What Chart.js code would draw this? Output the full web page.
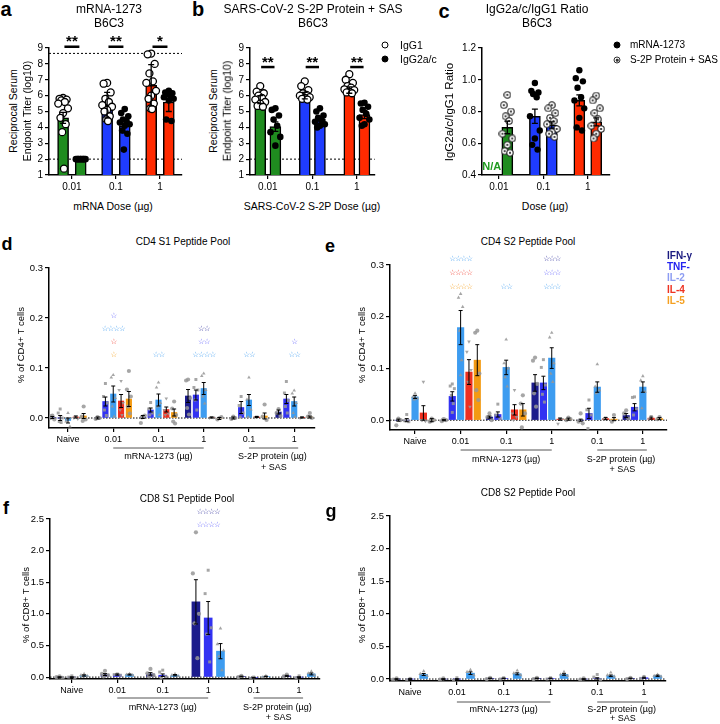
<!DOCTYPE html>
<html>
<head>
<meta charset="utf-8">
<script src="https://cdn.jsdelivr.net/npm/chart.js@4.4.1/dist/chart.umd.min.js"></script>
<style>
body { margin: 0; background: #fff; width: 720px; height: 724px; position: relative; overflow: hidden;
       font-family: 'Liberation Sans', Arial, Helvetica, sans-serif; }
canvas { position: absolute; }
.t { position: absolute; white-space: nowrap; transform: translate(-50%, -50%); color: #000; line-height: 1; }
.dot { position: absolute; width: 6px; height: 6px; border-radius: 50%; transform: translate(-50%, -50%); box-sizing: border-box; }
</style>
</head>
<body>
<script>
const FAMILY = "'Liberation Sans', Arial, Helvetica, sans-serif";
Chart.defaults.font.family = FAMILY;
Chart.defaults.color = '#000';

// ---------- antibody panels (a, b, c) ----------
const doseLabels = ['0.01', '0.1', '1'];
const doseColors = ['#1f8c1f', '#1f3cff', '#ff2a00'];

// a: mRNA-1273, log10 endpoint titers
const aIgG1Mean = [4.6, 5.4, 6.65];
const aIgG1Err = [0.35, 0.8, 1.3];
const aIgG2Mean = [2.0, 4.1, 5.6];
const aIgG2Err = [0, 0.45, 0.6];
const aIgG1Pts = [
    [5.85, 5.8, 5.75, 5.7, 5.6, 5.5, 5.2, 4.9, 4.6, 4.2, 3.7, 1.4],
    [6.8, 6.75, 6.2, 5.8, 5.6, 5.4, 5.3, 5.1, 5.0, 4.7, 4.5, 4.4],
    [8.65, 8.6, 8.0, 7.4, 6.9, 6.8, 6.3, 6.0, 5.8, 5.5, 5.2, 5.15]
];
const aIgG2Pts = [
    [2.0, 2.0, 2.0, 2.0, 2.0, 2.0, 2.0, 2.0, 2.0, 2.0],
    [5.15, 4.9, 4.7, 4.5, 4.4, 4.3, 4.2, 4.1, 3.8, 3.6, 2.6],
    [6.3, 6.2, 6.15, 6.1, 6.0, 5.9, 5.8, 5.7, 4.5, 4.4]
];
const aLimits = [2, 8.66];
const aSig = ['**', '**', '*'];

// b: S-2P protein + SAS
const bIgG1Mean = [5.75, 6.0, 6.35];
const bIgG1Err = [0.25, 0.2, 0.2];
const bIgG2Mean = [4.05, 4.5, 4.8];
const bIgG2Err = [0.3, 0.15, 0.25];
const bIgG1Pts = [
    [6.6, 6.25, 6.15, 6.0, 5.85, 5.75, 5.6, 5.5, 5.35, 5.3],
    [6.9, 6.6, 6.35, 6.15, 6.05, 6.0, 5.9, 5.85, 5.8, 5.75],
    [7.35, 7.0, 6.8, 6.6, 6.5, 6.4, 6.35, 6.25, 6.2, 6.15]
];
const bIgG2Pts = [
    [5.2, 5.1, 4.75, 4.5, 4.1, 3.7, 3.4, 2.85],
    [5.2, 5.0, 4.75, 4.6, 4.45, 4.35, 4.2, 4.1, 4.0],
    [5.55, 5.5, 5.3, 5.1, 4.85, 4.6, 4.5, 4.2, 4.1]
];
const bLimits = [2];
const bSig = ['**', '**', '**'];

// c: IgG2a/c / IgG1 ratio (no mRNA ratio at 0.01)
const cMrnaMean = [null, 0.77, 0.87];
const cMrnaErr = [0, 0.045, 0.035];
const cProtMean = [0.70, 0.715, 0.735];
const cProtErr = [0.04, 0.02, 0.025];
const cMrnaPts = [
    [],
    [0.98, 0.93, 0.92, 0.91, 0.89, 0.77, 0.68, 0.63, 0.59, 0.56],
    [1.06, 1.01, 0.99, 0.95, 0.89, 0.87, 0.82, 0.76, 0.70, 0.68]
];
const cProtPts = [
    [0.905, 0.84, 0.80, 0.77, 0.74, 0.66, 0.63, 0.59, 0.55, 0.54],
    [0.84, 0.82, 0.79, 0.76, 0.74, 0.72, 0.69, 0.67, 0.66, 0.64],
    [0.90, 0.87, 0.82, 0.79, 0.75, 0.71, 0.69, 0.66, 0.63]
];

// ---------- T cell panels (d, e, f, g) ----------
const tGroups = ['Naive', '0.01', '0.1', '1', '0.1', '1'];
const cytokines = ['IFN-γ', 'TNF-', 'IL-2', 'IL-4', 'IL-5'];
const cytoColors = ['#1c1c8c', '#3232f2', '#3d9cf0', '#ee3020', '#f39a12'];
const starColors = ['#2c2c9a', '#5a5aff', '#3d9cf0', '#f03a2a', '#f5a020'];
const legendColors = ['#1a1a80', '#2424f0', '#8c9cf2', '#ee3322', '#f5a020'];

// d: CD4 S1 — rows are groups, columns cytokines
const dMean = [
    [0.001, 0.0, -0.005, 0.002, 0.004],
    [0.0, 0.033, 0.048, 0.034, 0.038],
    [0.002, 0.016, 0.036, 0.017, 0.011],
    [0.044, 0.046, 0.059, 0.001, -0.001],
    [0.0, 0.021, 0.036, 0.002, 0.004],
    [0.012, 0.038, 0.033, 0.001, 0.002]
];
const dErr = [
    [0.002, 0.005, 0.005, 0.002, 0.005],
    [0.002, 0.009, 0.016, 0.013, 0.015],
    [0.003, 0.004, 0.012, 0.005, 0.007],
    [0.013, 0.010, 0.012, 0.001, 0.002],
    [0.002, 0.012, 0.011, 0.001, 0.006],
    [0.004, 0.009, 0.009, 0.001, 0.002]
];
const dPts = [
    [[0.005, 0.0, -0.003, 0.004], [0.018, 0.01, 0.0, -0.007, -0.009], [0.01, -0.007, -0.017, -0.002], [0.003, 0.0, -0.002], [0.023, 0.003, -0.003, -0.006]],
    [[0.002, -0.002, 0.0], [0.069, 0.043, 0.03, 0.016, 0.005], [0.086, 0.081, 0.04, 0.023, 0.003], [0.074, 0.056, 0.03, 0.016, 0.006], [0.094, 0.057, 0.043, 0.023, 0.009]],
    [[0.003, -0.01, 0.005, 0.001], [0.031, 0.018, 0.01, 0.006], [0.071, 0.061, 0.03, 0.023, 0.006], [0.039, 0.016, 0.009, 0.006], [0.033, 0.019, 0.006, -0.007, -0.011]],
    [[0.077, 0.075, 0.04, 0.02, 0.007], [0.077, 0.061, 0.056, 0.036, 0.016], [0.089, 0.084, 0.056, 0.043, 0.029], [0.002, 0.0, 0.001], [0.0, -0.003, 0.002]],
    [[0.003, -0.002, 0.0], [0.043, 0.025, 0.01, 0.002], [0.081, 0.037, 0.017, 0.002], [0.003, 0.001], [0.027, 0.003, -0.004]],
    [[0.018, 0.01, 0.004], [0.073, 0.05, 0.035, 0.023, 0.01], [0.055, 0.049, 0.03, 0.01, 0.002], [0.002, 0.0], [0.01, 0.003, 0.0]]
];
// [group, level, stars, cytokine]
const dStars = [
    [1, 3, '☆', 1], [1, 2, '☆☆☆☆', 2], [1, 1, '☆', 3], [1, 0, '☆', 4],
    [2, 0, '☆☆', 2],
    [3, 2, '☆☆', 0], [3, 1, '☆☆', 1], [3, 0, '☆☆☆☆', 2],
    [4, 0, '☆☆', 2],
    [5, 1, '☆', 1], [5, 0, '☆☆', 2]
];

// e: CD4 S2
const eMean = [
    [0.0, 0.0, 0.045, 0.014, 0.0],
    [0.0, 0.046, 0.179, 0.093, 0.116],
    [0.006, 0.011, 0.102, 0.020, 0.020],
    [0.072, 0.072, 0.120, 0.002, 0.002],
    [0.0, 0.013, 0.064, 0.003, 0.002],
    [0.009, 0.025, 0.064, 0.004, 0.003]
];
const eErr = [
    [0.002, 0.003, 0.003, 0.014, 0.003],
    [0.001, 0.009, 0.033, 0.024, 0.030],
    [0.002, 0.005, 0.014, 0.010, 0.012],
    [0.016, 0.013, 0.020, 0.002, 0.002],
    [0.002, 0.010, 0.010, 0.002, 0.003],
    [0.004, 0.007, 0.010, 0.002, 0.002]
];
const ePts = [
    [[0.003, -0.01, 0.0], [0.011, -0.001, -0.003], [0.052, 0.045, 0.042, 0.04], [0.074, 0.0, -0.002, 0.0, 0.0], [0.003, -0.003, 0.0, -0.002]],
    [[0.002, -0.002, 0.0, 0.001], [0.07, 0.066, 0.061, 0.048, 0.032, 0.015], [0.244, 0.237, 0.219, 0.173, 0.116, 0.087], [0.152, 0.132, 0.097, 0.074, 0.026], [0.173, 0.169, 0.09, 0.058, 0.039]],
    [[0.013, 0.006, 0.0], [0.031, 0.01, 0.003], [0.156, 0.11, 0.1, 0.083, 0.065], [0.058, 0.013, 0.006, 0.0], [0.048, 0.032, 0.013, -0.014]],
    [[0.121, 0.115, 0.07, 0.052, 0.026], [0.117, 0.102, 0.068, 0.05, 0.035], [0.169, 0.16, 0.11, 0.09, 0.074], [0.003, -0.007, 0.002], [0.005, 0.0, 0.002]],
    [[0.013, -0.003, -0.006], [0.039, 0.02, 0.01, -0.016], [0.108, 0.065, 0.058, 0.052], [0.005, 0.002], [0.01, -0.003]],
    [[0.019, 0.013, 0.003], [0.045, 0.044, 0.022, 0.01], [0.085, 0.077, 0.055, 0.023], [0.008, 0.002], [0.006, 0.002]]
];
const eStars = [
    [1, 2, '☆☆☆☆', 2], [1, 1, '☆☆☆☆', 3], [1, 0, '☆☆☆☆', 4],
    [2, 0, '☆☆', 2],
    [3, 2, '☆☆☆', 0], [3, 1, '☆☆☆', 1], [3, 0, '☆☆☆', 2]
];

// f: CD8 S1 (IFN-γ, TNF, IL-2 only)
const fMean = [
    [0.0, 0.0, 0.025],
    [0.04, 0.04, 0.04],
    [0.05, 0.03, 0.03],
    [1.19, 0.935, 0.41],
    [0.01, -0.01, 0.01],
    [0.02, 0.0, 0.05]
];
const fErr = [
    [0.005, 0.005, 0.01], [0.015, 0.01, 0.008], [0.02, 0.02, 0.01],
    [0.35, 0.26, 0.12], [0.005, 0.005, 0.005], [0.008, 0.005, 0.015]
];
const fPts = [
    [[0.01, 0.0, -0.01], [0.02, 0.0, -0.01], [0.05, 0.03, 0.02, 0.01]],
    [[0.1, 0.05, 0.03, 0.01], [0.05, 0.04, 0.03], [0.05, 0.04, 0.03]],
    [[0.13, 0.06, 0.03, 0.01], [0.11, 0.08, 0.01, -0.01], [0.05, 0.03, 0.02]],
    [[2.29, 1.64, 1.0, 0.85, 0.3], [1.69, 1.32, 0.78, 0.68, 0.24], [0.77, 0.52, 0.42, 0.33, 0.11]],
    [[0.02, 0.0], [0.0, -0.02], [0.02, 0.0]],
    [[0.04, 0.01], [0.02, -0.01], [0.09, 0.06, 0.03]]
];
const fStars = [[3, 1, '☆☆☆☆', 0], [3, 0, '☆☆☆☆', 1]];

// g: CD8 S2
const gMean = [
    [0.0, 0.0, 0.07], [0.0, 0.0, 0.09], [0.01, 0.01, 0.08],
    [0.01, 0.01, 0.07], [0.0, 0.01, 0.05], [0.01, 0.02, 0.05]
];
const gErr = [
    [0.005, 0.005, 0.015], [0.005, 0.005, 0.02], [0.005, 0.005, 0.015],
    [0.005, 0.005, 0.012], [0.005, 0.01, 0.012], [0.005, 0.008, 0.01]
];
const gPts = [
    [[0.01, -0.01], [0.01, -0.01], [0.12, 0.08, 0.05]],
    [[0.01, -0.01], [0.02, -0.02], [0.14, 0.11, 0.06]],
    [[0.02, 0.0], [0.02, 0.0], [0.13, 0.09, 0.06]],
    [[0.02, 0.0], [0.02, 0.0], [0.11, 0.07, 0.05]],
    [[0.01, -0.01], [0.07, 0.03, -0.01], [0.1, 0.06, 0.04]],
    [[0.02, 0.0], [0.04, 0.01], [0.07, 0.05, 0.04]]
];

// ---------- helpers ----------
const swarmWide = [0, -0.08, 0.08, -0.04, 0.04, -0.11, 0.11, 0.0, -0.06, 0.06, -0.02, 0.02];
const swarmNarrow = [0, -0.25, 0.25, -0.12, 0.12, 0];
const ptShapes = ['circle', 'rect', 'triangle', 'triangle', 'circle'];
const ptRot = [0, 0, 0, 180, 0];

function makeCanvas(box, yw, xh, padT, padR) {
    const cv = document.createElement('canvas');
    const w = yw + (box.r - box.l) + padR;
    const h = padT + (box.b - box.t) + xh;
    cv.width = w;
    cv.height = h;
    cv.style.left = (box.l - yw) + 'px';
    cv.style.top = (box.t - padT) + 'px';
    cv.style.width = w + 'px';
    cv.style.height = h + 'px';
    document.body.appendChild(cv);
    return cv;
}

function axes(o) {
    const grid = { offset: false, drawOnChartArea: false, drawTicks: true, tickLength: 4, color: '#000', lineWidth: 1.2 };
    const border = { display: true, color: '#000', width: 1.5 };
    return {
        x: {
            type: 'linear', offset: false, min: o.xr[0], max: o.xr[1],
            afterBuildTicks: s => { s.ticks = o.xLabels.map((_, i) => ({ value: i })); },
            afterFit: s => { s.height = o.xh; },
            ticks: { autoSkip: false, maxRotation: 0, padding: 2, font: { size: o.xFont }, color: '#000',
                     callback: (v, i) => o.xLabels[i] },
            grid, border
        },
        y: {
            type: 'linear', min: o.yr[0], max: o.yr[1],
            afterBuildTicks: s => { s.ticks = o.yTicks.map(v => ({ value: v })); },
            afterFit: s => { s.width = o.yw; },
            ticks: { padding: 2, font: { size: o.yFont }, color: '#000', callback: v => o.yFmt(v) },
            grid, border
        }
    };
}

function extrasPlugin(cfg) {
    return {
        id: 'extras',
        beforeDatasetsDraw(chart) {
            const { ctx, chartArea: a } = chart;
            const y = chart.scales.y;
            (cfg.refLines || []).forEach(v => {
                const py = y.getPixelForValue(v);
                ctx.save();
                ctx.setLineDash(cfg.dash || [2, 2]);
                ctx.strokeStyle = '#000';
                ctx.lineWidth = 1;
                ctx.beginPath();
                ctx.moveTo(a.left, py);
                ctx.lineTo(a.right, py);
                ctx.stroke();
                ctx.restore();
            });
        },
        afterDatasetsDraw(chart) {
            const ctx = chart.ctx;
            const x = chart.scales.x, y = chart.scales.y;
            const bottom = chart.chartArea.bottom;
            ctx.save();
            // error bars
            ctx.strokeStyle = '#000';
            ctx.lineWidth = cfg.errW || 1;
            (cfg.errBars || []).forEach(b => {
                if (!b.e) return;
                const px = x.getPixelForValue(b.x);
                const y1 = y.getPixelForValue(b.y - b.e), y2 = y.getPixelForValue(b.y + b.e);
                const cw = cfg.capW || 2;
                ctx.beginPath();
                ctx.moveTo(px, y1); ctx.lineTo(px, y2);
                ctx.moveTo(px - cw, y1); ctx.lineTo(px + cw, y1);
                ctx.moveTo(px - cw, y2); ctx.lineTo(px + cw, y2);
                ctx.stroke();
            });
            // significance brackets
            (cfg.brackets || []).forEach(b => {
                const x1 = x.getPixelForValue(b.x1), x2 = x.getPixelForValue(b.x2), py = y.getPixelForValue(b.y);
                ctx.lineWidth = 2.5;
                ctx.beginPath(); ctx.moveTo(x1, py); ctx.lineTo(x2, py); ctx.stroke();
                ctx.font = 'bold 15px ' + FAMILY;
                ctx.fillStyle = '#000';
                ctx.textAlign = 'center';
                ctx.textBaseline = 'alphabetic';
                ctx.fillText(b.text, (x1 + x2) / 2, py - 0.5);
            });
            // star annotations
            (cfg.stars || []).forEach(s => {
                ctx.font = "bold 7.5px 'DejaVu Sans'";
                ctx.letterSpacing = '-1px';
                ctx.fillStyle = s.color;
                ctx.textAlign = 'center';
                ctx.textBaseline = 'middle';
                ctx.fillText(s.text, x.getPixelForValue(s.x), y.getPixelForValue(s.y));
            });
            ctx.letterSpacing = '0px';
            // notes
            (cfg.notes || []).forEach(n => {
                ctx.font = n.font;
                ctx.fillStyle = n.color;
                ctx.textAlign = 'center';
                ctx.textBaseline = 'middle';
                ctx.fillText(n.text, x.getPixelForValue(n.x), y.getPixelForValue(n.y));
            });
            // group labels under the x axis
            if (cfg.sub) {
                const s = cfg.sub;
                ctx.strokeStyle = '#555';
                ctx.lineWidth = 1;
                ctx.beginPath();
                ctx.moveTo(x.getPixelForValue(1), bottom + s.line);
                ctx.lineTo(x.getPixelForValue(3), bottom + s.line);
                ctx.moveTo(x.getPixelForValue(4), bottom + s.line);
                ctx.lineTo(x.getPixelForValue(5) + 4, bottom + s.line);
                ctx.stroke();
                ctx.font = '9px ' + FAMILY;
                ctx.fillStyle = '#000';
                ctx.textAlign = 'center';
                ctx.textBaseline = 'middle';
                ctx.fillText('mRNA-1273 (µg)', x.getPixelForValue(2), bottom + s.t1);
                ctx.fillText('S-2P protein (µg)', x.getPixelForValue(4.52), bottom + s.t1);
                ctx.fillText('+ SAS', x.getPixelForValue(4.55), bottom + s.t2);
            }
            ctx.restore();
        }
    };
}

function baseOptions(pad, scales) {
    return {
        responsive: false, animation: false, devicePixelRatio: 1,
        layout: { padding: { top: pad.t, right: pad.r, left: 0, bottom: 0 } },
        plugins: { legend: { display: false }, tooltip: { enabled: false } },
        scales
    };
}

function ringDot() {
    const c = document.createElement('canvas');
    c.width = 8; c.height = 8;
    const x = c.getContext('2d');
    x.beginPath(); x.arc(4, 4, 3.2, 0, Math.PI * 2);
    x.fillStyle = '#fff'; x.fill();
    x.lineWidth = 1.1; x.strokeStyle = '#222'; x.stroke();
    x.beginPath(); x.arc(4, 4, 1.1, 0, Math.PI * 2);
    x.fillStyle = '#222'; x.fill();
    return c;
}

// sets: [{mean, err, pts, off, point style}]
function antibodyChart(o) {
    const yw = 30, xh = 22;
    const cv = makeCanvas(o.box, yw, xh, o.padT, o.padR);
    const datasets = [];
    const errBars = [];
    o.sets.forEach(set => {
        const bars = [], colors = [];
        set.mean.forEach((m, g) => {
            if (m === null) return;
            bars.push({ x: g + set.off, y: m });
            colors.push(doseColors[g]);
            errBars.push({ x: g + set.off, y: m, e: set.err[g] });
        });
        datasets.push({ type: 'bar', data: bars, backgroundColor: colors, borderColor: '#000', borderWidth: 1.5,
                        barThickness: 11, grouped: false, order: 2 });
        const pts = [];
        set.pts.forEach((arr, g) => arr.forEach((v, k) => pts.push({ x: g + set.off + swarmWide[k % swarmWide.length], y: v })));
        datasets.push(Object.assign({ type: 'scatter', data: pts, order: 1 }, set.point));
    });
    const cfg = {
        refLines: o.refLines, errBars, errW: 1.3, capW: 3,
        brackets: (o.sig || []).map((s, g) => ({ x1: g - o.bw, x2: g + o.bw, y: o.sigY, text: s })),
        notes: o.notes
    };
    new Chart(cv, {
        type: 'bar',
        data: { datasets },
        options: baseOptions({ t: o.padT, r: o.padR }, axes({
            xr: o.xr, yr: o.yr, xLabels: doseLabels, yTicks: o.yTicks, yFmt: o.yFmt,
            xFont: 10, yFont: 10, xh, yw
        })),
        plugins: [extrasPlugin(cfg)]
    });
}

function tcellChart(o) {
    const yw = 30;
    const cv = makeCanvas(o.box, yw, o.xh, o.padT, 8);
    const n = o.mean[0].length;
    const off = c => (c - (n - 1) / 2) * o.step;
    const datasets = [];
    const errBars = [];
    for (let c = 0; c < n; c++) {
        datasets.push({
            type: 'bar', order: 2, grouped: false, barThickness: o.barW,
            backgroundColor: cytoColors[c], borderWidth: 0,
            data: o.mean.map((row, g) => ({ x: g + off(c), y: row[c] }))
        });
        o.mean.forEach((row, g) => errBars.push({ x: g + off(c), y: row[c], e: o.err[g][c] }));
        const pts = [];
        o.pts.forEach((row, g) => row[c].forEach((v, k) =>
            pts.push({ x: g + off(c) + swarmNarrow[k % swarmNarrow.length] * o.step, y: v })));
        datasets.push({
            type: 'scatter', order: 1, data: pts,
            pointStyle: ptShapes[c], pointRotation: ptRot[c], pointRadius: o.ptR,
            backgroundColor: 'rgba(150,150,150,0.85)', borderColor: 'rgba(150,150,150,0.85)', borderWidth: 0
        });
    }
    const cfg = {
        refLines: [0], dash: [1.5, 1.5], errBars, errW: 1, capW: 2,
        stars: o.stars.map(s => ({ x: s[0], y: o.starY[s[1]], text: s[2], color: starColors[s[3]] })),
        sub: o.sub
    };
    new Chart(cv, {
        type: 'bar',
        data: { datasets },
        options: baseOptions({ t: o.padT, r: 8 }, axes({
            xr: o.xr, yr: o.yr, xLabels: tGroups, yTicks: o.yTicks, yFmt: v => v.toFixed(1),
            xFont: 9, yFont: 9.5, xh: o.xh, yw
        })),
        plugins: [extrasPlugin(cfg)]
    });
}

function txt(s, x, y, o = {}) {
    const d = document.createElement('div');
    d.className = 't';
    d.textContent = s;
    d.style.left = x + 'px';
    d.style.top = y + 'px';
    d.style.fontSize = (o.size || 10) + 'px';
    if (o.bold) d.style.fontWeight = 'bold';
    if (o.color) d.style.color = o.color;
    if (o.rot) d.style.transform = 'translate(-50%, -50%) rotate(-90deg)';
    if (o.left) d.style.transform = 'translate(0, -50%)';
    document.body.appendChild(d);
}

function marker(x, y, fill, border, inner) {
    const d = document.createElement('div');
    d.className = 'dot';
    d.style.left = x + 'px';
    d.style.top = y + 'px';
    d.style.width = d.style.height = '7px';
    d.style.background = fill;
    d.style.border = '1.3px solid ' + border;
    document.body.appendChild(d);
    if (inner) {
        const i = document.createElement('div');
        i.className = 'dot';
        i.style.left = x + 'px';
        i.style.top = y + 'px';
        i.style.width = i.style.height = '2.5px';
        i.style.background = border;
        document.body.appendChild(i);
    }
}

// ---------- build ----------
const openCircle = { pointStyle: 'circle', pointRadius: 3.5, backgroundColor: '#fff', borderColor: '#000', borderWidth: 1.3 };
const filledCircle = { pointStyle: 'circle', pointRadius: 3.3, backgroundColor: '#000', borderColor: '#000', borderWidth: 0 };

antibodyChart({
    box: { l: 49, r: 182, t: 48, b: 175 }, padT: 40, padR: 8,
    xr: [-0.52, 2.5], yr: [1, 9], yTicks: [1, 2, 3, 4, 5, 6, 7, 8, 9], yFmt: v => String(v),
    sets: [
        { mean: aIgG1Mean, err: aIgG1Err, pts: aIgG1Pts, off: -0.2, point: openCircle },
        { mean: aIgG2Mean, err: aIgG2Err, pts: aIgG2Pts, off: 0.2, point: filledCircle }
    ],
    refLines: aLimits, sig: aSig, sigY: 9.08, bw: 0.17
});

antibodyChart({
    box: { l: 250, r: 375, t: 48, b: 175 }, padT: 40, padR: 5,
    xr: [-0.4, 2.4], yr: [1, 9], yTicks: [1, 2, 3, 4, 5, 6, 7, 8, 9], yFmt: v => String(v),
    sets: [
        { mean: bIgG1Mean, err: bIgG1Err, pts: bIgG1Pts, off: -0.17, point: openCircle },
        { mean: bIgG2Mean, err: bIgG2Err, pts: bIgG2Pts, off: 0.17, point: filledCircle }
    ],
    refLines: bLimits, sig: bSig, sigY: 7.8, bw: 0.15
});

antibodyChart({
    box: { l: 482, r: 610, t: 48, b: 175 }, padT: 10, padR: 5,
    xr: [-0.38, 2.5], yr: [0.4, 1.2], yTicks: [0.4, 0.6, 0.8, 1.0, 1.2], yFmt: v => v.toFixed(1),
    sets: [
        { mean: cMrnaMean, err: cMrnaErr, pts: cMrnaPts, off: -0.19, point: { pointStyle: 'circle', pointRadius: 3.2, backgroundColor: '#000', borderWidth: 0 } },
        { mean: cProtMean, err: cProtErr, pts: cProtPts, off: 0.19, point: { pointStyle: ringDot(), pointRadius: 4 } }
    ],
    notes: [{ x: -0.16, y: 0.45, text: 'N/A', color: '#1f9a1f', font: 'bold 11px ' + FAMILY }]
});

tcellChart({
    box: { l: 49, r: 315, t: 268, b: 428 }, padT: 10, xh: 55,
    xr: [-0.42, 5.46], yr: [-0.02, 0.3], yTicks: [0, 0.1, 0.2, 0.3],
    mean: dMean, err: dErr, pts: dPts, step: 0.173, barW: 5.5, ptR: 2.1,
    stars: dStars, starY: [0.125, 0.152, 0.178, 0.204],
    sub: { line: 20, t1: 29, t2: 40 }
});

tcellChart({
    box: { l: 390, r: 667, t: 265, b: 430 }, padT: 15, xh: 55,
    xr: [-0.55, 5.53], yr: [-0.019, 0.3], yTicks: [0, 0.1, 0.2, 0.3],
    mean: eMean, err: eErr, pts: ePts, step: 0.183, barW: 6.5, ptR: 2.1,
    stars: eStars, starY: [0.257, 0.285, 0.311],
    sub: { line: 20, t1: 30, t2: 40 }
});

tcellChart({
    box: { l: 50, r: 320, t: 519, b: 679 }, padT: 20, xh: 45,
    xr: [-0.48, 5.46], yr: [-0.03, 2.5], yTicks: [0, 0.5, 1.0, 1.5, 2.0, 2.5],
    mean: fMean, err: fErr, pts: fPts, step: 0.27, barW: 8, ptR: 2.1,
    stars: fStars, starY: [2.40, 2.61],
    sub: { line: 19, t1: 29, t2: 39 }
});

tcellChart({
    box: { l: 390, r: 666, t: 516, b: 681 }, padT: 10, xh: 43,
    xr: [-0.43, 5.47], yr: [-0.03, 2.5], yTicks: [0, 0.5, 1.0, 1.5, 2.0, 2.5],
    mean: gMean, err: gErr, pts: gPts, step: 0.29, barW: 8, ptR: 2.1,
    stars: [], starY: [],
    sub: { line: 21, t1: 29, t2: 38 }
});

// ---------- text ----------
txt('a', 6, 9, { size: 20, bold: true });
txt('b', 198, 9, { size: 20, bold: true });
txt('c', 444, 11, { size: 20, bold: true });
txt('d', 7, 244, { size: 18, bold: true });
txt('e', 330, 246, { size: 18, bold: true });
txt('f', 6, 508, { size: 18, bold: true });
txt('g', 331, 511, { size: 18, bold: true });

txt('mRNA-1273', 109, 9, { size: 12 });
txt('B6C3', 109, 23, { size: 12 });
txt('SARS-CoV-2 S-2P Protein + SAS', 313, 9, { size: 12 });
txt('B6C3', 313, 23, { size: 12 });
txt('IgG2a/c/IgG1 Ratio', 537, 9, { size: 12 });
txt('B6C3', 537, 23, { size: 12 });

txt('mRNA Dose (µg)', 113, 206, { size: 10.5 });
txt('SARS-CoV-2 S-2P Dose (µg)', 312, 206, { size: 10.5 });
txt('Dose (µg)', 545, 206, { size: 10.5 });

txt('Reciprocal Serum', 13, 111, { size: 10.5, rot: true });
txt('Endpoint Titer (log10)', 27, 111, { size: 10.5, rot: true });
txt('Reciprocal Serum', 213, 111, { size: 10.5, rot: true });
txt('Endpoint Titer (log10)', 227, 111, { size: 10.5, rot: true });
txt('IgG2a/c/IgG1 Ratio', 450, 112, { size: 11.5, rot: true });

marker(385, 45, '#fff', '#000');
txt('IgG1', 400, 45, { size: 10.5, left: true });
marker(385, 59, '#000', '#000');
txt('IgG2a/c', 400, 59, { size: 10.5, left: true });
marker(617, 45, '#000', '#000');
txt('mRNA-1273', 630, 45, { size: 10, left: true });
marker(617, 60, '#fff', '#333', true);
txt('S-2P Protein + SAS', 630, 60, { size: 10, left: true });

txt('CD4 S1 Peptide Pool', 183, 242, { size: 10 });
txt('CD4 S2 Peptide Pool', 528, 242, { size: 10 });
txt('CD8 S1 Peptide Pool', 187, 499, { size: 10 });
txt('CD8 S2 Peptide Pool', 528, 493, { size: 10 });

txt('% of CD4+ T cells', 21, 345, { size: 9.5, rot: true });
txt('% of CD4+ T cells', 362, 345, { size: 9.5, rot: true });
txt('% of CD8+ T cells', 26, 605, { size: 9.5, rot: true });
txt('% of CD8+ T cells', 362, 605, { size: 9.5, rot: true });

cytokines.forEach((name, i) => txt(name, 667, 256 + i * 11.2, { size: 10, bold: true, left: true, color: legendColors[i] }));
</script>
</body>
</html>
